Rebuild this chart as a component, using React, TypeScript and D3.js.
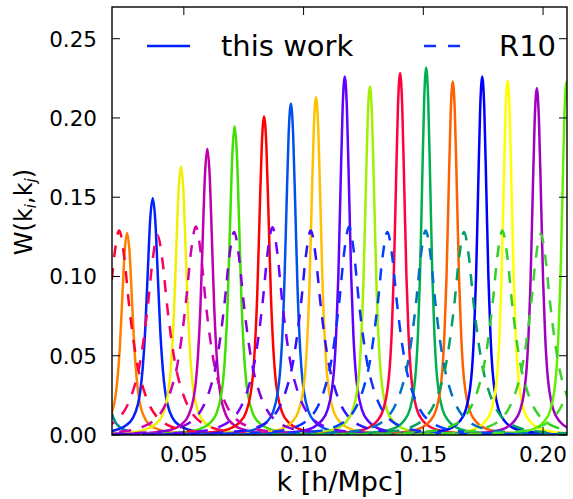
import React from "react";
import * as d3 from "d3";

const W = 573;
const H = 499;
const plot = { left: 112, right: 567, top: 7, bottom: 435 };

const xDomain = [0.02, 0.21];
const yDomain = [0, 0.27];
const xTicks = [0.05, 0.1, 0.15, 0.2];
const yTicks = [0, 0.05, 0.1, 0.15, 0.2, 0.25];

// "this work" window functions: peak centres, peak heights, widths (relative), colours
const solidCenters = [0.015, 0.0263, 0.037, 0.0488, 0.0598, 0.0712, 0.0835, 0.0947, 0.1052, 0.1172, 0.1277, 0.1403, 0.1512, 0.1623, 0.1746, 0.1852, 0.1974, 0.2098];
const solidPeaks = [0.075, 0.1275, 0.1494, 0.1694, 0.1806, 0.1947, 0.201, 0.209, 0.213, 0.2262, 0.2199, 0.2283, 0.2319, 0.223, 0.2262, 0.2237, 0.2188, 0.223];
const solidWidths = [1.0, 1.0, 1.05, 1.0, 0.97, 0.95, 0.95, 0.93, 0.92, 0.9, 0.9, 0.88, 0.85, 0.88, 0.86, 0.85, 0.88, 0.85];
const solidColors = ["#008c8c", "#ff8000", "#0020ff", "#f0f000", "#c000b0", "#40e000", "#ff0000", "#0050f0", "#ffc000", "#6000ff", "#a0f000", "#ff0040", "#00b050", "#ff6000", "#0000ff", "#ffff00", "#a000c0", "#60f000"];
// normalised shape of a "this work" window
const solidOffsets = [-0.08, -0.05, -0.03, -0.02, -0.015, -0.011, -0.008, -0.006, -0.005, -0.004, -0.003, -0.002, -0.001, 0, 0.001, 0.002, 0.003, 0.004, 0.005, 0.006, 0.008, 0.011, 0.015, 0.02, 0.03, 0.05, 0.08];
const solidShape = [0.001, 0.002, 0.005, 0.011, 0.02, 0.038, 0.07, 0.125, 0.18, 0.28, 0.44, 0.68, 0.91, 1, 0.91, 0.68, 0.44, 0.28, 0.18, 0.125, 0.07, 0.038, 0.02, 0.011, 0.005, 0.002, 0.001];

// R10 window functions
const dashedCenters = [0.023, 0.039, 0.055, 0.071, 0.087, 0.103, 0.119, 0.135, 0.151, 0.167, 0.183, 0.199, 0.2205];
const dashedPeaks = [0.129, 0.126, 0.1315, 0.128, 0.131, 0.129, 0.1315, 0.128, 0.129, 0.128, 0.129, 0.127, 0.128];
const dashedColors = ["#ff0030", "#ff0060", "#d000b0", "#8000e0", "#7000ff", "#3010ff", "#1030ff", "#0040ff", "#0070c0", "#00a060", "#30d020", "#40d030", "#40e020"];
const dashedOffsets = [-0.08, -0.05, -0.03, -0.022, -0.018, -0.015, -0.0125, -0.01, -0.008, -0.006, -0.004, -0.002, 0, 0.002, 0.004, 0.006, 0.008, 0.01, 0.0125, 0.015, 0.018, 0.022, 0.03, 0.05, 0.08];
const dashedShape = [0.002, 0.006, 0.018, 0.04, 0.065, 0.1, 0.15, 0.23, 0.32, 0.46, 0.65, 0.88, 1, 0.88, 0.65, 0.46, 0.32, 0.23, 0.15, 0.1, 0.065, 0.04, 0.018, 0.006, 0.002];

const legendLabels = ["this work", "R10"];
const legendColors = ["#0020ff", "#1030ff"];

const FONT = "DejaVu Sans, Bitstream Vera Sans, sans-serif";

export default function App() {
  const x = d3.scaleLinear().domain(xDomain).range([plot.left, plot.right]);
  const y = d3.scaleLinear().domain(yDomain).range([plot.bottom, plot.top]);
  const line = d3
    .line<[number, number]>()
    .x((d) => x(d[0]))
    .y((d) => y(d[1]))
    .curve(d3.curveMonotoneX);

  const solidSeries = solidCenters.map((c, i) =>
    solidOffsets.map((o, j) => [c + o * solidWidths[i], solidPeaks[i] * solidShape[j]] as [number, number])
  );
  const dashedSeries = dashedCenters.map((c, i) =>
    dashedOffsets.map((o, j) => [c + o, dashedPeaks[i] * dashedShape[j]] as [number, number])
  );

  const tickLen = 8;

  return (
    <svg width={W} height={H} style={{ display: "block", position: "absolute", left: 0, top: 0 }} fontFamily={FONT}>
      <rect x={0} y={0} width={W} height={H} fill="white" />
      <defs>
        <clipPath id="plotclip">
          <rect x={plot.left} y={plot.top} width={plot.right - plot.left} height={plot.bottom - plot.top} />
        </clipPath>
      </defs>
      <g clipPath="url(#plotclip)" fill="none">
        {solidSeries.map((s, i) => (
          <path key={"s" + i} d={line(s) || ""} stroke={solidColors[i]} strokeWidth={2.5} />
        ))}
        {dashedSeries.map((s, i) => (
          <path key={"d" + i} d={line(s) || ""} stroke={dashedColors[i]} strokeWidth={2.5} strokeDasharray="12,11" />
        ))}
      </g>
      <g stroke="black" strokeWidth={1}>
        {xTicks.map((t) => (
          <g key={"xt" + t}>
            <line x1={x(t)} x2={x(t)} y1={plot.bottom} y2={plot.bottom - tickLen} />
            <line x1={x(t)} x2={x(t)} y1={plot.top} y2={plot.top + tickLen} />
          </g>
        ))}
        {yTicks.map((t) => (
          <g key={"yt" + t}>
            <line x1={plot.left} x2={plot.left + tickLen} y1={y(t)} y2={y(t)} />
            <line x1={plot.right} x2={plot.right - tickLen} y1={y(t)} y2={y(t)} />
          </g>
        ))}
      </g>
      <rect x={plot.left} y={plot.top} width={plot.right - plot.left} height={plot.bottom - plot.top} fill="none" stroke="black" strokeWidth={1.4} />
      {xTicks.map((t) => (
        <text key={"xl" + t} x={x(t)} y={461.5} textAnchor="middle" fontSize={21.5}>
          {t.toFixed(2)}
        </text>
      ))}
      {yTicks.map((t) => (
        <text key={"yl" + t} x={97} y={y(t) + 8} textAnchor="end" fontSize={21.5}>
          {t.toFixed(2)}
        </text>
      ))}
      <text x={340} y={491} textAnchor="middle" fontSize={27}>
        k [h/Mpc]
      </text>
      <text transform="translate(32,212) rotate(-90)" textAnchor="middle" fontSize={24}>
        W(k
        <tspan fontStyle="italic" fontSize={15} dy={4}>i</tspan>
        <tspan dy={-4}>,k</tspan>
        <tspan fontStyle="italic" fontSize={15} dy={4}>j</tspan>
        <tspan dy={-4}>)</tspan>
      </text>
      <line x1={147} x2={190} y1={46} y2={46} stroke={legendColors[0]} strokeWidth={2.5} />
      <text x={221} y={56} fontSize={29}>{legendLabels[0]}</text>
      <line x1={424} x2={467} y1={46} y2={46} stroke={legendColors[1]} strokeWidth={2.5} strokeDasharray="12,12" />
      <text x={499} y={56} fontSize={29}>{legendLabels[1]}</text>
    </svg>
  );
}
